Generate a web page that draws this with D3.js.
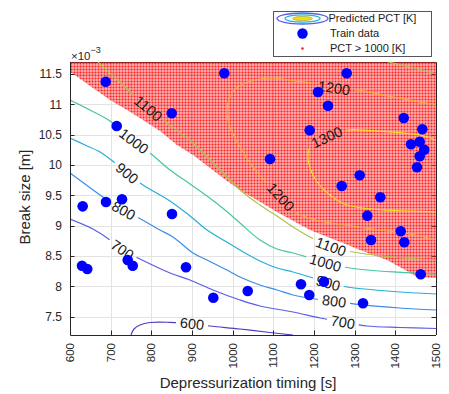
<!DOCTYPE html>
<html>
<head>
<meta charset="utf-8">
<script src="https://cdn.jsdelivr.net/npm/d3@7"></script>
<style>
    body { margin: 0; background: #fff; }
    svg { display: block; font-family: "Liberation Sans", Arial, sans-serif; }
</style>
</head>
<body>
<svg id="chart" width="449" height="394"></svg>
<script>
// ---- data (timing [s], break size [x1e-3 m]) ----
var xTicks = [600, 700, 800, 900, 1000, 1100, 1200, 1300, 1400, 1500];
var yTicks = [7.5, 8, 8.5, 9, 9.5, 10, 10.5, 11, 11.5];
var contourLevels = [600, 700, 800, 900, 1000, 1100, 1200, 1300];

var contour600 = [[750, 7.2], [757.4, 7.299], [772.1, 7.365], [796.7, 7.406], [845.9, 7.409], [895.1, 7.39],
    [944.3, 7.348], [1018, 7.299], [1091.8, 7.241], [1148.4, 7.2]];
var contour700 = [[600, 9.112], [656.6, 8.947], [698.4, 8.766], [730.3, 8.601], [767.2, 8.469], [845.9, 8.222],
    [895.1, 8.107], [951.6, 7.942], [1018, 7.777], [1067.2, 7.678], [1148.4, 7.579], [1214.8, 7.48],
    [1268.8, 7.414], [1330.3, 7.348], [1411.5, 7.324], [1500, 7.307]];
var contour800 = [[600, 9.87], [636.9, 9.689], [673.8, 9.508], [703.3, 9.376], [730.3, 9.26], [764.8, 9.145],
    [821.3, 8.931], [853.3, 8.815], [902.5, 8.552], [936.9, 8.436], [986.1, 8.271], [1018, 8.156],
    [1067.2, 8.024], [1109, 7.942], [1148.4, 7.859], [1202.5, 7.793], [1246.7, 7.76], [1320.5, 7.695],
    [1411.5, 7.645], [1500, 7.612]];
var contour900 = [[600, 10.447], [636.9, 10.332], [673.8, 10.217], [710.7, 10.035], [740.2, 9.87], [779.5, 9.673],
    [845.9, 9.409], [895.1, 9.162], [936.9, 8.931], [981.1, 8.75], [1018, 8.601], [1067.2, 8.42],
    [1109, 8.304], [1148.4, 8.239], [1190.2, 8.156], [1234.4, 8.057], [1281.1, 7.991], [1394.3, 7.917],
    [1500, 7.876]];
var contour1000 = [[600, 11.074], [649.2, 10.909], [698.4, 10.728], [747.5, 10.447], [796.7, 10.2], [845.9, 9.92],
    [895.1, 9.689], [936.9, 9.491], [981.1, 9.26], [1018, 9.046], [1067.2, 8.766], [1109, 8.618],
    [1148.4, 8.552], [1190.2, 8.469], [1239.3, 8.37], [1288.5, 8.304], [1394.3, 8.239], [1500, 8.206]];
var contour1100 = [[668.9, 11.7], [710.7, 11.436], [747.5, 11.206], [791.8, 10.942], [838.5, 10.695],
    [902.5, 10.365], [968.9, 9.92], [1018, 9.59], [1067.2, 9.343], [1109, 9.162], [1148.4, 8.98],
    [1190.2, 8.815], [1244.3, 8.651], [1295.9, 8.568], [1394.3, 8.486], [1500, 8.436]];
var contour1100b = [[1382, 11.7], [1436.1, 11.618], [1500, 11.502]];
var contour1200 = [[1500, 10.992], [1394.3, 11.123], [1305.7, 11.239], [1251.6, 11.271], [1190.2, 11.354],
    [1148.4, 11.392], [1099.2, 11.436], [1054.9, 11.403], [1025.4, 11.337], [998.4, 11.189], [986.1, 10.909],
    [993.4, 10.629], [1018, 10.299], [1050, 9.969], [1084.4, 9.706], [1116.4, 9.491], [1153.3, 9.228],
    [1202.5, 9.096], [1276.2, 9.013], [1362.3, 8.931], [1436.1, 8.865], [1500, 8.766]];
var contour1300 = [[1500, 10.414], [1460.7, 10.497], [1411.5, 10.535], [1337.7, 10.568], [1281.1, 10.579],
    [1232, 10.464], [1190.2, 10.299], [1185.2, 10.134], [1190.2, 9.953], [1207.4, 9.722], [1239.3, 9.508],
    [1281.1, 9.343], [1369.7, 9.261], [1436.1, 9.244], [1500, 9.228]];

// inline contour labels: level and where it sits
var labelLevels = [1300, 1200, 1200, 1100, 1100, 1000, 1000, 900, 900, 800, 800, 700, 700, 600];
var labelTiming = [1232, 1249.2, 1118.8, 794.3, 1241.8, 754.9, 1227, 740.2, 1234.4, 732.8, 1249.2, 730.3, 1271.3, 900];
var labelBreak = [10.464, 11.288, 9.475, 10.942, 8.667, 10.381, 8.354, 9.87, 8.057, 9.26, 7.76, 8.618, 7.431, 7.365];

// train data
var trainTiming = [687.8, 979.4, 850.1, 714.8, 1280.4, 1209.8, 1234.4, 1420.6, 1466.3, 1189.4, 1459.9, 1438.5,
    1471.2, 1459.9, 1453.3, 1091.8, 1312.4, 1268.1, 1363, 1331.1, 1340.2, 1413.2, 1422, 1462.4, 1168, 1224.6,
    1188.4, 1320.5, 631.2, 688.5, 727.9, 850.8, 629.5, 642.5, 741.9, 754.2, 885.2, 952.4, 1037];
var trainBreak = [11.375, 11.514, 10.855, 10.645, 11.514, 11.206, 10.98, 10.777, 10.591, 10.574, 10.386, 10.344,
    10.254, 10.146, 9.964, 10.101, 9.833, 9.656, 9.47, 9.167, 8.766, 8.909, 8.728, 8.201, 8.036, 8.079,
    7.859, 7.723, 9.321, 9.392, 9.437, 9.195, 8.342, 8.288, 8.436, 8.342, 8.316, 7.815, 7.925];

// lower edge of the PCT > 1000 K region
var pctBoundary = [[600, 11.54], [656.6, 11.271], [698.4, 11.074], [740.2, 10.909], [779.5, 10.744],
    [821.3, 10.563], [863.1, 10.332], [902.5, 10.167], [944.3, 9.953], [986.1, 9.738], [1025.4, 9.557],
    [1059.8, 9.425], [1109, 9.228], [1190.2, 8.931], [1271.3, 8.717], [1313.1, 8.601], [1379.5, 8.436],
    [1428.7, 8.255], [1453.3, 8.156], [1500, 8.14]];

var contours = [
    {level: 600, points: contour600}, {level: 700, points: contour700}, {level: 800, points: contour800},
    {level: 900, points: contour900}, {level: 1000, points: contour1000}, {level: 1100, points: contour1100},
    {level: 1100, points: contour1100b}, {level: 1200, points: contour1200}, {level: 1300, points: contour1300}
];

(function draw() {
    "use strict";

    var svg = d3.select("#chart"),
        left = 70, right = 436, top = 62, bottom = 335,
        x = d3.scaleLinear().domain([600, 1500]).range([left, right]),
        y = d3.scaleLinear().domain([7.2, 11.7]).range([bottom, top]),
        color = d3.scaleOrdinal().domain(contourLevels)
            .range(["#4b3ec0", "#5b5ce6", "#3a8ce8", "#22b0d8", "#45c6a0", "#aec24a", "#f6ad3c", "#f4dc1e"]),
        axisColor = "#262626",
        defs = svg.append("defs");

    svg.append("rect").attr("width", 449).attr("height", 394).attr("fill", "#fff");

    defs.append("clipPath").attr("id", "plot-clip")
        .append("rect").attr("x", left).attr("y", top).attr("width", right - left).attr("height", bottom - top);
    defs.append("clipPath").attr("id", "red-clip")
        .append("rect").attr("x", left - 2).attr("y", top - 1).attr("width", right - left + 4).attr("height", bottom - top + 2);

    // dotted red fill (grid of small markers)
    var pat = defs.append("pattern").attr("id", "red-dots").attr("patternUnits", "userSpaceOnUse")
        .attr("x", left).attr("y", top).attr("width", 3).attr("height", 3);
    pat.append("rect").attr("x", 0.35).attr("y", 0.35).attr("width", 2.3).attr("height", 2.3).attr("fill", "#ff2020");

    // grid
    var grid = svg.append("g").attr("stroke", "#e3e3e3").attr("stroke-width", 1);
    grid.selectAll("line.gx").data(xTicks).join("line")
        .attr("x1", d => Math.round(x(d)) + 0.5).attr("x2", d => Math.round(x(d)) + 0.5)
        .attr("y1", top).attr("y2", bottom);
    grid.selectAll("line.gy").data(yTicks).join("line")
        .attr("y1", d => Math.round(y(d)) + 0.5).attr("y2", d => Math.round(y(d)) + 0.5)
        .attr("x1", left).attr("x2", right);

    // box top/right (under the markers)
    svg.append("path").attr("fill", "none").attr("stroke", axisColor).attr("stroke-width", 1)
        .attr("d", "M" + left + "," + (top + 0.5) + "H" + (right + 0.5) + "V" + bottom);
    svg.append("g").selectAll("line").data(yTicks).join("line")
        .attr("x1", right).attr("x2", right - 4.5)
        .attr("y1", d => Math.round(y(d)) + 0.5).attr("y2", d => Math.round(y(d)) + 0.5)
        .attr("stroke", axisColor);

    // PCT > 1000 region
    var region = [[600, 11.7]].concat(pctBoundary, [[1500, 11.7]]);
    svg.append("path")
        .attr("clip-path", "url(#red-clip)")
        .attr("d", d3.line().x(d => x(d[0])).y(d => y(d[1]))(region) + "Z")
        .attr("fill", "url(#red-dots)");

    // contour lines
    var line = d3.line().x(d => x(d[0])).y(d => y(d[1])).curve(d3.curveCatmullRom.alpha(0.5));
    var lineGroup = svg.append("g").attr("clip-path", "url(#plot-clip)");
    var paths = contours.map(function (c) {
        return {
            level: c.level,
            node: lineGroup.append("g").attr("mask", "url(#mask-" + c.level + ")")
                .append("path")
                .attr("d", line(c.points))
                .attr("fill", "none")
                .attr("stroke", color(c.level))
                .attr("stroke-width", 1.2)
                .node()
        };
    });

    /**
     * Find the point on the level's contour nearest to (px, py) and the line direction there.
     */
    function placeOnContour(level, px, py) {
        var best = null;
        paths.filter(p => p.level === level).forEach(function (p) {
            var len = p.node.getTotalLength(), s, pt, d;
            for (s = 0; s <= len; s += 0.5) {
                pt = p.node.getPointAtLength(s);
                d = (pt.x - px) * (pt.x - px) + (pt.y - py) * (pt.y - py);
                if (!best || d < best.d) best = {d: d, s: s, node: p.node, len: len};
            }
        });
        var c = best.node.getPointAtLength(best.s),
            a = best.node.getPointAtLength(Math.max(0, best.s - 5)),
            b = best.node.getPointAtLength(Math.min(best.len, best.s + 5)),
            angle = Math.atan2(b.y - a.y, b.x - a.x) * 180 / Math.PI;
        if (angle > 90) angle -= 180;
        if (angle < -90) angle += 180;
        return {x: c.x, y: c.y, angle: angle};
    }

    // masks that break each line under its labels
    var masks = {};
    contourLevels.forEach(function (lv) {
        masks[lv] = defs.append("mask").attr("id", "mask-" + lv).attr("maskUnits", "userSpaceOnUse")
            .attr("x", 0).attr("y", 0).attr("width", 449).attr("height", 394);
        masks[lv].append("rect").attr("width", 449).attr("height", 394).attr("fill", "#fff");
    });

    var labelGroup = svg.append("g");
    labelLevels.forEach(function (lv, i) {
        var pos = placeOnContour(lv, x(labelTiming[i]), y(labelBreak[i])),
            tr = "translate(" + pos.x + "," + pos.y + ") rotate(" + pos.angle + ")",
            t = labelGroup.append("text")
                .attr("transform", tr)
                .attr("text-anchor", "middle")
                .attr("dy", "0.36em")
                .attr("font-size", 14.5)
                .attr("fill", "#1a1a1a")
                .text(lv),
            w = t.node().getComputedTextLength();
        masks[lv].append("rect").attr("transform", tr)
            .attr("x", -w / 2 - 4).attr("y", -7).attr("width", w + 8).attr("height", 14)
            .attr("fill", "#000");
    });

    // train data
    svg.append("g").selectAll("circle").data(trainTiming).join("circle")
        .attr("cx", d => x(d))
        .attr("cy", (d, i) => y(trainBreak[i]))
        .attr("r", 5.3)
        .attr("fill", "#0000ff");

    // left and bottom axes, ticks pointing inward
    var axes = svg.append("g").attr("stroke", axisColor).attr("stroke-width", 1);
    axes.append("path").attr("fill", "none")
        .attr("d", "M" + (left + 0.5) + "," + top + "V" + (bottom + 0.5) + "H" + right);
    axes.selectAll("line.tx").data(xTicks).join("line")
        .attr("x1", d => Math.round(x(d)) + 0.5).attr("x2", d => Math.round(x(d)) + 0.5)
        .attr("y1", bottom).attr("y2", bottom - 4.5);
    axes.selectAll("line.ty").data(yTicks).join("line")
        .attr("x1", left).attr("x2", left + 4.5)
        .attr("y1", d => Math.round(y(d)) + 0.5).attr("y2", d => Math.round(y(d)) + 0.5);

    svg.append("g").selectAll("text").data(xTicks).join("text")
        .attr("transform", d => "translate(" + x(d) + "," + (bottom + 8) + ") rotate(-90)")
        .attr("text-anchor", "end")
        .attr("dy", "0.35em")
        .attr("font-size", 11.5)
        .attr("fill", axisColor)
        .text(d => d);
    svg.append("g").selectAll("text").data(yTicks).join("text")
        .attr("x", left - 8)
        .attr("y", d => y(d))
        .attr("text-anchor", "end")
        .attr("dy", "0.35em")
        .attr("font-size", 12)
        .attr("fill", axisColor)
        .text(d => d);

    // exponent
    var ex = svg.append("text").attr("x", left + 1).attr("y", top - 2.5)
        .attr("font-size", 11.5).attr("fill", axisColor);
    ex.append("tspan").text("\u00d710");
    ex.append("tspan").attr("dy", -7).attr("font-size", 9).text("\u22123");

    // axis titles
    svg.append("text")
        .attr("x", 248).attr("y", 388)
        .attr("text-anchor", "middle")
        .attr("font-size", 15)
        .attr("fill", axisColor)
        .text("Depressurization timing [s]");
    svg.append("text")
        .attr("transform", "translate(30,197) rotate(-90)")
        .attr("text-anchor", "middle")
        .attr("font-size", 15)
        .attr("fill", axisColor)
        .text("Break size [m]");

    // legend
    var lg = svg.append("g");
    lg.append("rect").attr("x", 273.5).attr("y", 11.5).attr("width", 158).attr("height", 45)
        .attr("fill", "#fff").attr("stroke", "#555").attr("stroke-width", 1);
    lg.append("ellipse").attr("cx", 302.5).attr("cy", 18.5).attr("rx", 25.5).attr("ry", 5.5)
        .attr("fill", "none").attr("stroke", color(700)).attr("stroke-width", 1.3);
    lg.append("ellipse").attr("cx", 302.5).attr("cy", 18.5).attr("rx", 17.5).attr("ry", 3.6)
        .attr("fill", "none").attr("stroke", color(900)).attr("stroke-width", 1.3);
    lg.append("ellipse").attr("cx", 302.5).attr("cy", 18.5).attr("rx", 10).attr("ry", 2)
        .attr("fill", color(1300)).attr("stroke", color(1100)).attr("stroke-width", 1);
    lg.append("circle").attr("cx", 302.5).attr("cy", 33.5).attr("r", 5.2).attr("fill", "#0000ff");
    lg.append("circle").attr("cx", 302.5).attr("cy", 48.5).attr("r", 1.3).attr("fill", "#ff2222");
    lg.selectAll("text").data(["Predicted PCT [K]", "Train data", "PCT > 1000 [K]"]).join("text")
        .attr("x", (d, i) => i === 0 ? 328.5 : 330)
        .attr("y", (d, i) => 18.5 + i * 15)
        .attr("dy", "0.35em")
        .attr("font-size", 11)
        .attr("fill", "#1a1a1a")
        .text(d => d);
})();
</script>
</body>
</html>
